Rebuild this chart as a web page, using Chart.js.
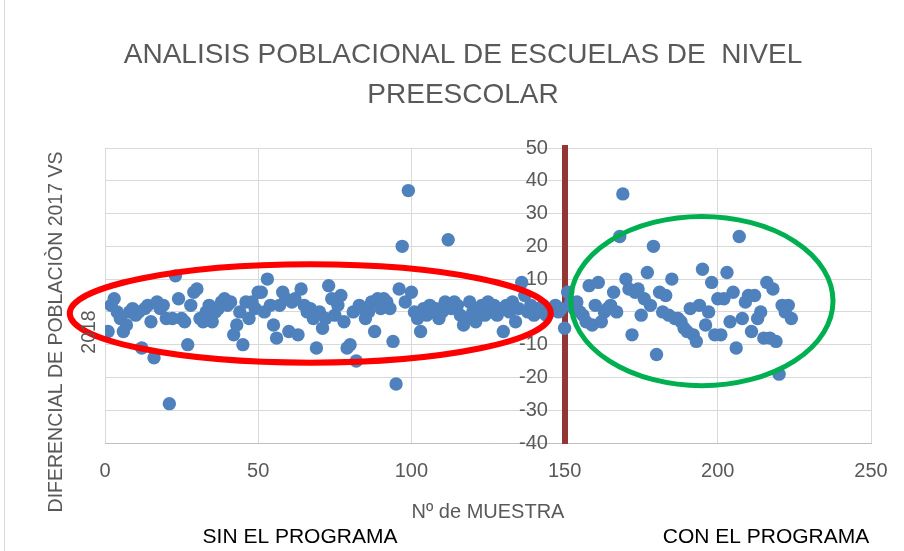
<!DOCTYPE html>
<html lang="es">
<head>
    <meta charset="UTF-8">
    <title>ANALISIS POBLACIONAL DE ESCUELAS DE NIVEL PREESCOLAR</title>
    <script src="https://cdn.jsdelivr.net/npm/chart.js@4"></script>
    <style>
        html, body { margin: 0; padding: 0; background: #fff; overflow: hidden; }
    </style>
</head>
<body>
    <canvas id="chartMuestras" width="904" height="551"></canvas>
<script>
    // diferencia de poblacion 2017 vs 2018, muestras 1..150 (sin el programa)
    const sinPrograma = [
        -6, 2, 4, 0, -2, -6, -4, 0, 1, -1,
        0, -11, 1, 2, -3, -14, 3, 1, 2, -2,
        -28, -2, 11, 4, -2, -3, -10, 2, 6, 7,
        -2, -3, 0, 2, -3, 0, 1, 3, 4, 2,
        3, -7, -4, 0, -10, 3, -2, 3, 1, 6,
        6, 0, 10, 2, -4, -8, 2, 6, 4, -6,
        3, 4, -7, 7, 2, 0, 1, -2, -11, 0,
        -5, -2, 8, 4, -1, 2, 5, -3, -11, -10,
        0, -15, 2, 1, -2, 0, 3, -6, 4, 1,
        4, 3, 1, -9, -22, 7, 20, 3, 37, 6,
        0, -2, -6, 1, -1, 2, 0, 1, -2, 0,
        3, 22, 1, 3, 2, -1, -4, -2, 3, 0,
        -3, 1, 2, -1, 3, 0, 2, -1, 1, -6,
        2, 0, 3, -3, 1, 9, 5, 0, 2, -1,
        1, 0, 2, -1, 0, 1, 2, 0, 1, -5
    ];
    // muestras 151..224 (con el programa)
    const conPrograma = [
        6, 3, 1, 3, 0, -1, -3, 8, -4, 2,
        9, -3, 0, 1, 2, 6, 0, 23, 36, 10,
        7, -7, 6, 7, -1, 4, 12, 2, 20, -13,
        6, 0, 5, -1, 10, -2, -2, -3, -5, -6,
        1, -7, -9, 2, 13, -4, 0, 9, -7, 4,
        -7, 4, 12, -3, 6, -11, 23, -2, 3, 5,
        -6, 5, -2, 0, -8, 9, -8, 7, -9, -19,
        2, 0, 2, -2
    ];
    const primeraMuestraCon = 151;

    const ticksX = [0, 50, 100, 150, 200, 250];
    const ticksY = [-40, -30, -20, -10, 0, 10, 20, 30, 40, 50];

    const titulo = ['ANALISIS POBLACIONAL DE ESCUELAS DE  NIVEL', 'PREESCOLAR'];
    const tituloY = ['DIFERENCIAL DE POBLACIÒN 2017 VS', '2018'];
    const etiquetasGrupo = ['SIN EL PROGRAMA', 'CON EL PROGRAMA'];

    const puntos = sinPrograma.map((v, i) => ({ x: i + 1, y: v }))
        .concat(conPrograma.map((v, i) => ({ x: primeraMuestraCon + i, y: v })));

    const fuente = "'Liberation Sans', Arial, sans-serif";
    const gris = '#595959';

    // elipses y textos sobrepuestos, como en la hoja original
    const extrasPlugin = {
        id: 'extras',
        afterDatasetsDraw(chart) {
            const ctx = chart.ctx;
            const sx = chart.scales.x;
            const sy = chart.scales.y;
            const elipse = (cx, cy, rx, ry, color, ancho) => {
                const px = sx.getPixelForValue(cx);
                const py = sy.getPixelForValue(cy);
                const prx = Math.abs(sx.getPixelForValue(cx + rx) - px);
                const pry = Math.abs(sy.getPixelForValue(cy + ry) - py);
                ctx.save();
                ctx.beginPath();
                ctx.ellipse(px, py, prx, pry, 0, 0, Math.PI * 2);
                ctx.strokeStyle = color;
                ctx.lineWidth = ancho;
                ctx.stroke();
                ctx.restore();
            };
            elipse(67, -0.5, 78.5, 15, '#FF0000', 6);
            elipse(194.8, 3.3, 42.8, 25.8, '#00B050', 5);
        },
        afterDraw(chart) {
            const ctx = chart.ctx;
            ctx.save();
            // borde izquierdo del grafico
            ctx.strokeStyle = '#D9D9D9';
            ctx.lineWidth = 1;
            ctx.beginPath();
            ctx.moveTo(4.5, 0);
            ctx.lineTo(4.5, chart.height);
            ctx.stroke();

            // titulo principal
            ctx.fillStyle = gris;
            ctx.font = '28px ' + fuente;
            ctx.textAlign = 'center';
            ctx.textBaseline = 'middle';
            ctx.fillText(titulo[0], 463, 55);
            ctx.fillText(titulo[1], 463, 95);

            // titulo del eje vertical
            ctx.font = '19.5px ' + fuente;
            ctx.translate(57, 332);
            ctx.rotate(-Math.PI / 2);
            ctx.fillText(tituloY[0], 0, 0);
            ctx.fillText(tituloY[1], 0, 33);
            ctx.restore();

            ctx.save();
            ctx.fillStyle = '#000';
            ctx.font = '21px ' + fuente;
            ctx.textAlign = 'center';
            ctx.textBaseline = 'middle';
            ctx.fillText(etiquetasGrupo[0], 300, 537);
            ctx.fillText(etiquetasGrupo[1], 766, 537);
            ctx.restore();
        }
    };

    new Chart(document.getElementById('chartMuestras'), {
        type: 'scatter',
        data: {
            datasets: [{
                label: 'Diferencial',
                data: puntos,
                backgroundColor: '#4F81BD',
                borderColor: '#4F81BD',
                pointRadius: 6.7,
                pointHoverRadius: 6.7,
                borderWidth: 0
            }]
        },
        options: {
            responsive: false,
            animation: false,
            layout: {
                padding: { left: 105, right: 33, top: 148, bottom: 27 }
            },
            plugins: {
                legend: { display: false },
                tooltip: { enabled: false },
                title: { display: false }
            },
            scales: {
                x: {
                    type: 'linear',
                    min: ticksX[0],
                    max: ticksX[ticksX.length - 1],
                    afterBuildTicks: (s) => { s.ticks = ticksX.map(v => ({ value: v })); },
                    grid: { color: '#D9D9D9', drawTicks: false },
                    border: { color: '#BFBFBF' },
                    ticks: { color: gris, font: { family: fuente, size: 20 }, padding: 16 },
                    title: {
                        display: true,
                        text: 'Nº de MUESTRA',
                        color: gris,
                        font: { family: fuente, size: 20 },
                        padding: { top: 1, bottom: 0 }
                    }
                },
                y: {
                    type: 'linear',
                    position: { x: 150 },
                    min: ticksY[0],
                    max: ticksY[ticksY.length - 1],
                    afterBuildTicks: (s) => { s.ticks = ticksY.map(v => ({ value: v })); },
                    grid: { color: '#D9D9D9', drawTicks: false },
                    border: { color: '#943634', width: 6 },
                    // el eje cruza en x = 150; las etiquetas quedan separadas de la barra
                    ticks: {
                        color: gris,
                        font: { family: fuente, size: 20 },
                        callback: (v) => v + '   '
                    }
                }
            }
        },
        plugins: [extrasPlugin]
    });
</script>
</body>
</html>
